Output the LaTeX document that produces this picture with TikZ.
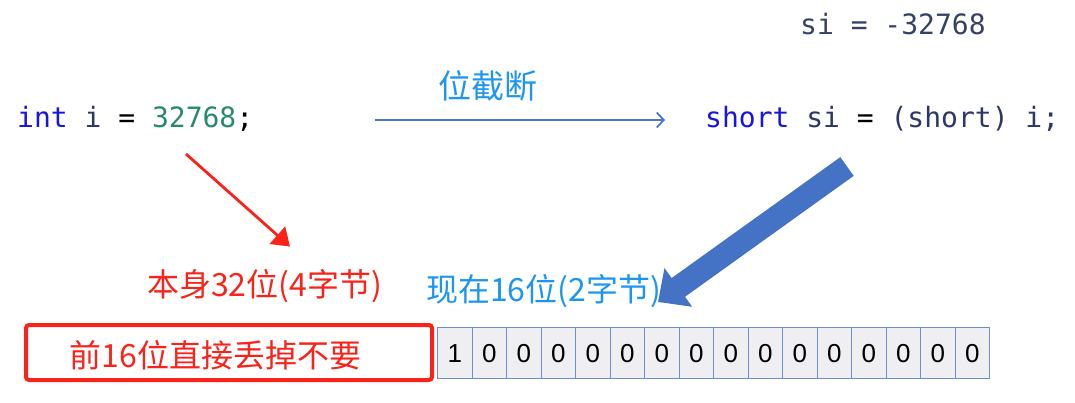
\documentclass[tikz,border=0pt]{standalone}
\usepackage{fontspec}
\setmainfont{Liberation Sans}
\newfontfamily\cjk{Noto Sans CJK SC}
\newfontfamily\codefont{DejaVu Sans Mono}
\usetikzlibrary{arrows.meta,calc}
\definecolor{kwblue}{RGB}{25,20,225}
\definecolor{idnavy}{RGB}{45,55,105}
\definecolor{numgreen}{RGB}{40,138,108}
\definecolor{lblblue}{RGB}{30,150,240}
\definecolor{arrblue}{RGB}{68,114,196}
\definecolor{thinblue}{RGB}{80,115,205}
\definecolor{myred}{RGB}{250,35,25}
\definecolor{cellfill}{RGB}{239,239,241}
\definecolor{cellborder}{RGB}{112,140,210}
\definecolor{sigray}{RGB}{55,65,100}
\tikzset{
  code/.style={inner sep=0pt, anchor=base west, font=\codefont\fontsize{28}{30}\selectfont},
  cjklabel/.style={inner sep=0pt, anchor=base west, font=\cjk\fontsize{32}{34}\selectfont},
  bitcell/.style={draw=cellborder, line width=1.4pt, fill=cellfill, minimum width=34.5pt, minimum height=51pt, anchor=north west, inner sep=0pt, font=\fontsize{26}{28}\selectfont},
  droprect/.style={draw=myred, line width=4pt, rounded corners=3pt, minimum width=406pt, minimum height=55pt, inner sep=0pt},
}
\begin{document}
\begin{tikzpicture}[x=1pt,y=-1pt]
\useasboundingbox (0,0) rectangle (1075,403);
% code lines
\node[code] (intline) at (17,128) {\textcolor{kwblue}{int} \textcolor{idnavy}{i} = \textcolor{numgreen}{32768};};
\node[code] (shortline) at (705,128) {\textcolor{kwblue}{short} \textcolor{idnavy}{si} = \textcolor{idnavy}{(short) i;}};
\node[code, text=sigray] (result) at (800,35) {si = -32768};
% labels
\node[cjklabel, text=lblblue, font=\cjk\fontsize{33}{35}\selectfont] (trunc) at (438,99) {位截断};
\node[cjklabel, text=myred] (orig) at (147,296) {本身32位(4字节)};
\node[cjklabel, text=lblblue] (now) at (426,301) {现在16位(2字节)};
% red box
\node[droprect] (drop) at (229,352.5) {};
\node[cjklabel, text=myred] (droptext) at (69.5,367) {前16位直接丢掉不要};
% bit cells
\foreach \i/\v in {1/1,2/0,3/0,4/0,5/0,6/0,7/0,8/0,9/0,10/0,11/0,12/0,13/0,14/0,15/0,16/0}{
  \node[bitcell] (b\i) at ({437+(\i-1)*34.5},327) {\v};
}
% arrows
\coordinate (ts) at (375,120);
\coordinate (te) at (665,120);
\draw[thinblue, line width=1.8pt, -{Straight Barb[length=7pt,width=15pt]}] (ts) -- (te);
\coordinate (rs) at (186,154);
\coordinate (re) at (290,246.5);
\draw[myred, line width=2.8pt, -{Triangle[length=17pt,width=23pt]}] (rs) -- (re);
\coordinate (bs) at (847,166.5);
\coordinate (be) at (658,302);
\draw[arrblue, line width=23pt, -{Triangle[length=25pt,width=46pt]}] (bs) -- (be);
\end{tikzpicture}
\end{document}
